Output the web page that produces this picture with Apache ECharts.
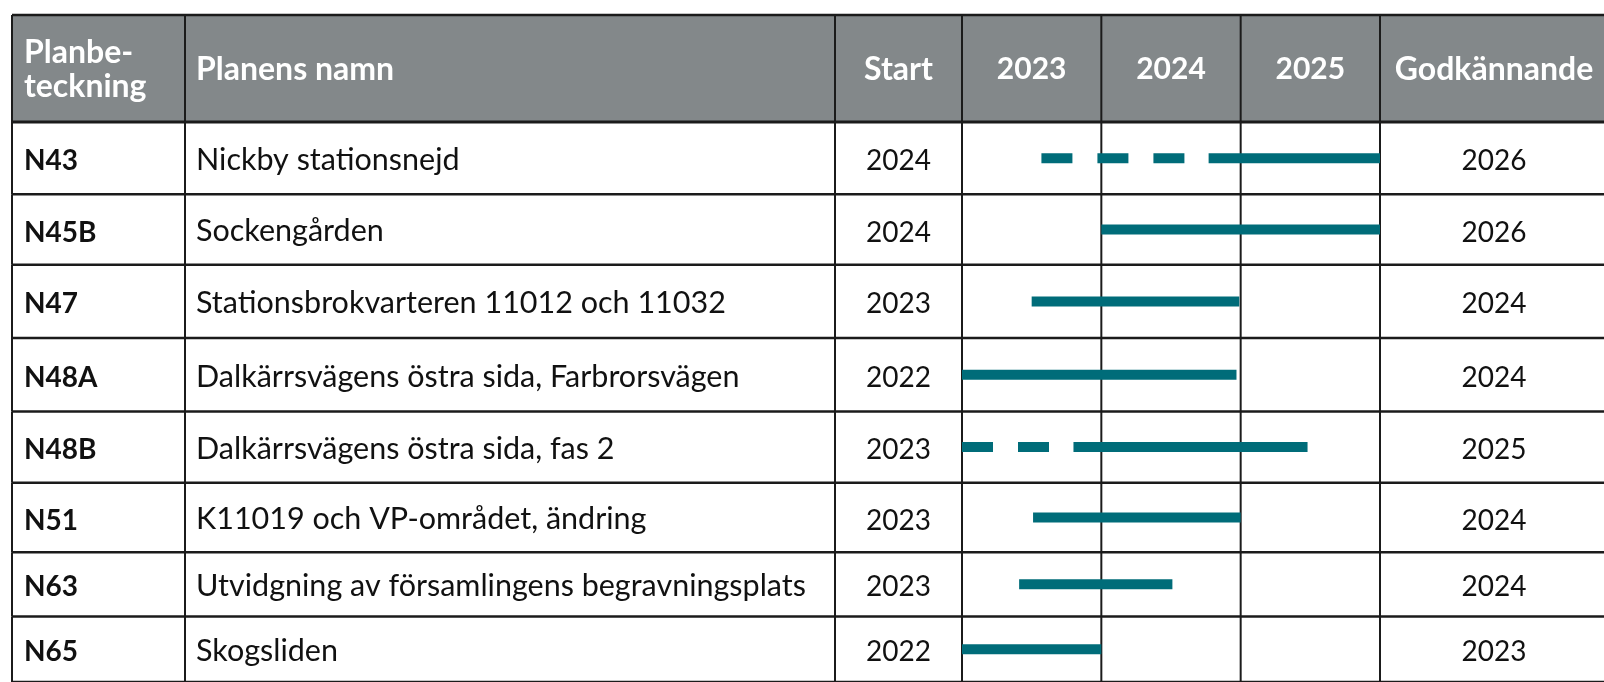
<!DOCTYPE html>
<html>
<head>
<meta charset="utf-8">
<script src="https://cdn.jsdelivr.net/npm/echarts@6/dist/echarts.min.js"></script>
<style>
  html, body { margin: 0; padding: 0; background: #fff; }
  #chart { width: 1604px; height: 682px; }
</style>
</head>
<body>
<div id="chart"></div>
<script>
// plan data, one entry per row
const codes = ['N43', 'N45B', 'N47', 'N48A', 'N48B', 'N51', 'N63', 'N65'];
const planNames = [
    'Nickby stationsnejd',
    'Sockengården',
    'Stationsbrokvarteren 11012 och 11032',
    'Dalkärrsvägens östra sida, Farbrorsvägen',
    'Dalkärrsvägens östra sida, fas 2',
    'K11019 och VP-området, ändring',
    'Utvidgning av församlingens begravningsplats',
    'Skogsliden'
];
const startYears = [2024, 2024, 2023, 2022, 2023, 2023, 2023, 2022];
const approvalYears = [2026, 2026, 2024, 2024, 2025, 2024, 2024, 2023];
// timeline: dashed part (preliminary) then solid part
const dashedFrom = [2023.57, null, null, null, 2023.0, null, null, null];
const solidFrom = [2024.77, 2024.0, 2023.5, 2023.0, 2023.8, 2023.51, 2023.41, 2023.0];
const solidTo = [2026.0, 2026.0, 2024.99, 2024.97, 2025.48, 2025.0, 2024.51, 2024.0];
const timelineYears = [2023, 2024, 2025];
const headerLabels = ['Planbe-\nteckning', 'Planens namn', 'Start', 'Godkännande'];

// layout (pixels)
const tableLeft = 12;
const tableRight = 1604;
const nameColX = 185;
const startColX = 835;
const approvalColRight = 1604;
const headerHeight = 108;
const rowHeights = [73, 71, 74, 74, 72, 70, 65, 66];
const rowTops = [];
rowHeights.reduce((acc, h) => { rowTops.push(acc); return acc + h; }, 0);
const bodyHeight = rowHeights.reduce((a, b) => a + b, 0);

const teal = '#006c79';
const headerGray = '#83888a';
const lineColor = '#1b1b1b';
const font = 'Lato';

function vline(x, y1, y2, w) {
    return {
        type: 'line',
        shape: { x1: x, y1: y1, x2: x, y2: y2 },
        style: { stroke: lineColor, lineWidth: w || 2 }
    };
}
function hline(y, w) {
    return {
        type: 'line',
        shape: { x1: tableLeft, y1: y, x2: tableRight, y2: y },
        style: { stroke: lineColor, lineWidth: w || 2 }
    };
}
function label(text, x, y, opts) {
    return {
        type: 'text',
        x: x,
        y: y,
        style: Object.assign({
            text: text,
            fill: '#111',
            font: '30.5px ' + font,
            align: 'left',
            verticalAlign: 'middle'
        }, opts || {})
    };
}

function yearEdges(api) {
    return [2023, 2024, 2025, 2026].map((yr) => api.coord([yr, 0])[0]);
}

function renderHeader(params, api) {
    const yTop = api.coord([2023, -headerHeight])[1];
    const yBot = api.coord([2023, 0])[1];
    const yMid = (yTop + yBot) / 2 + 1;
    const edges = yearEdges(api);
    const approvalX = edges[3];
    const bold = 'bold 32px ' + font;
    const children = [
        {
            type: 'rect',
            shape: { x: tableLeft, y: yTop, width: tableRight - tableLeft, height: yBot - yTop },
            style: { fill: headerGray }
        },
        label(headerLabels[0], tableLeft + 12, yMid, { fill: '#fff', font: bold, lineHeight: 34 }),
        label(headerLabels[1], nameColX + 11, yMid, { fill: '#fff', font: bold }),
        label(headerLabels[2], (startColX + edges[0]) / 2, yMid, { fill: '#fff', font: bold, align: 'center' }),
        label(headerLabels[3], (approvalX + approvalColRight) / 2 + 2, yMid, { fill: '#fff', font: bold, align: 'center' })
    ];
    timelineYears.forEach((yr, k) => {
        children.push(label(String(yr), (edges[k] + edges[k + 1]) / 2, yMid,
            { fill: '#fff', font: 'bold 30px ' + font, align: 'center' }));
    });
    [tableLeft, nameColX, startColX].concat(edges).forEach((x) => {
        children.push(vline(x, yTop, yBot));
    });
    children.push(hline(yTop, 2.5));
    children.push(hline(yBot, 3));
    return { type: 'group', children: children };
}

function renderRow(params, api) {
    const i = params.dataIndex;
    const row = api.value(0);
    const yTop = api.coord([2023, rowTops[row]])[1];
    const yBot = api.coord([2023, rowTops[row] + rowHeights[row]])[1];
    const yMid = api.coord([2023, api.value(1)])[1];
    const edges = yearEdges(api);
    const children = [];

    children.push(label(codes[i], tableLeft + 12, yMid + 3, { font: 'bold 28px ' + font }));
    children.push(label(planNames[i], nameColX + 11, yMid + 2));
    children.push(label(String(startYears[i]), (startColX + edges[0]) / 2, yMid + 3, { align: 'center', font: '28px ' + font }));
    children.push(label(String(approvalYears[i]), (edges[3] + approvalColRight) / 2 + 2, yMid + 3, { align: 'center', font: '28px ' + font }));

    [tableLeft, nameColX, startColX].concat(edges).forEach((x) => {
        children.push(vline(x, yTop, yBot));
    });
    children.push(hline(yBot, 2.5));

    const dFrom = api.value(2);
    const sFrom = api.value(3);
    const sTo = api.value(4);
    if (!isNaN(dFrom) && dFrom !== null) {
        const p1 = api.coord([dFrom, api.value(1)]);
        const p2 = api.coord([sFrom, api.value(1)]);
        children.push({
            type: 'line',
            shape: { x1: p1[0], y1: p1[1], x2: p2[0], y2: p2[1] },
            style: { stroke: teal, lineWidth: 10, lineDash: [31, 25], lineCap: 'butt' }
        });
    }
    const a = api.coord([sFrom, api.value(1)]);
    const b = api.coord([sTo, api.value(1)]);
    children.push({
        type: 'rect',
        shape: { x: a[0], y: a[1] - 5, width: b[0] - a[0], height: 10 },
        style: { fill: teal }
    });
    return { type: 'group', children: children };
}

const rowData = codes.map((c, i) => [
    i,
    rowTops[i] + rowHeights[i] / 2,
    dashedFrom[i] === null ? '-' : dashedFrom[i],
    solidFrom[i],
    solidTo[i]
]);

const chart = echarts.init(document.getElementById('chart'), null, { renderer: 'canvas' });

const option = {
    backgroundColor: '#ffffff',
    animation: false,
    grid: {
        left: 962,
        width: 418,
        top: 14 + headerHeight,
        height: bodyHeight
    },
    xAxis: {
        type: 'value',
        min: 2023,
        max: 2026,
        show: false
    },
    yAxis: {
        type: 'value',
        min: 0,
        max: bodyHeight,
        inverse: true,
        show: false
    },
    series: [
        {
            type: 'custom',
            name: 'Rader',
            renderItem: renderRow,
            clip: false,
            data: rowData,
            encode: { x: [2, 3, 4], y: 1 }
        },
        {
            type: 'custom',
            name: 'Rubrik',
            renderItem: renderHeader,
            clip: false,
            data: [[2023, 0]],
            encode: { x: 0, y: 1 }
        }
    ]
};

chart.setOption(option);
</script>
</body>
</html>
